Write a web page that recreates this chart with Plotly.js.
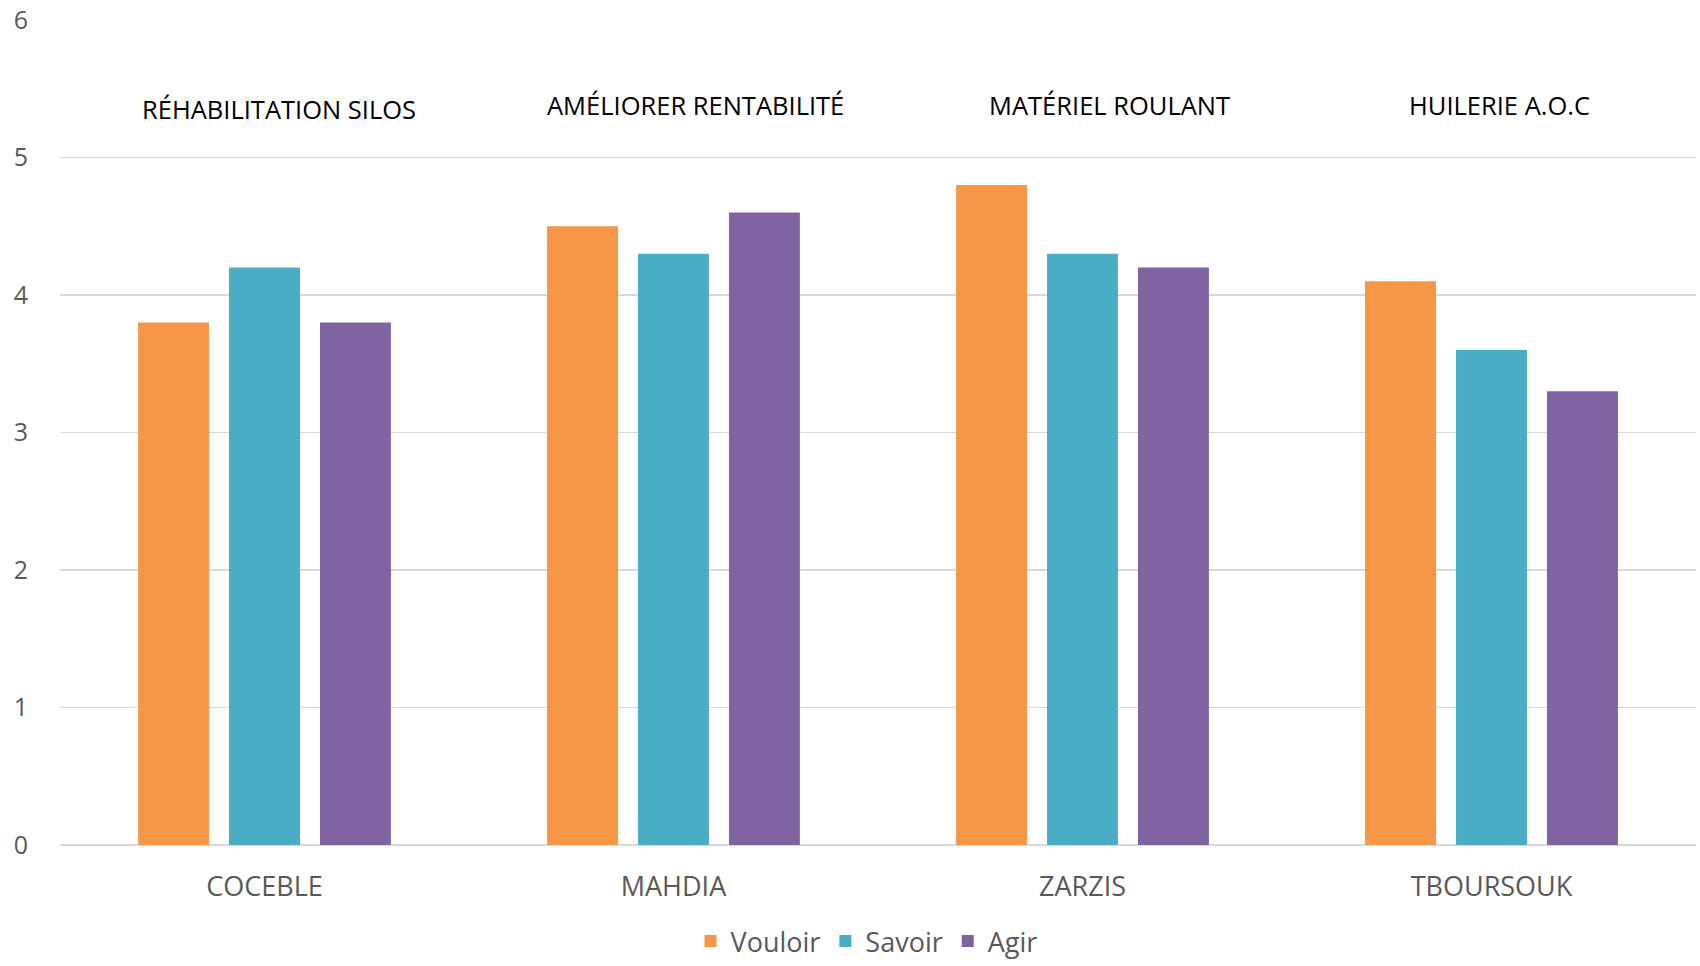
<!DOCTYPE html>
<html>
<head>
<meta charset="utf-8">
<script src="https://cdn.plot.ly/plotly-3.0.1.min.js"></script>
<style>html,body{margin:0;padding:0;background:#fff;}#chart{width:1700px;height:966px;}</style>
</head>
<body>
<div id="chart"></div>
<script>
const categories = ["COCEBLE", "MAHDIA", "ZARZIS", "TBOURSOUK"];
const projects = ["RÉHABILITATION SILOS", "AMÉLIORER RENTABILITÉ", "MATÉRIEL ROULANT", "HUILERIE A.O.C"];
const projectX = [0.035, 1.055, 2.065, 3.02];
const projectY = [5.35, 5.38, 5.38, 5.38];
const vouloir = [3.8, 4.5, 4.8, 4.1];
const savoir = [4.2, 4.3, 4.3, 3.6];
const agir = [3.8, 4.6, 4.2, 3.3];
const yTicks = [0, 1, 2, 3, 4, 5, 6];

const font = "'Open Sans', 'DejaVu Sans', sans-serif";
const traces = [
  {type: 'bar', name: 'Vouloir', x: categories, y: vouloir, marker: {color: '#F79646'}},
  {type: 'bar', name: 'Savoir', x: categories, y: savoir, marker: {color: '#4BACC6'}},
  {type: 'bar', name: 'Agir', x: categories, y: agir, marker: {color: '#8064A2'}}
];

const annotations = projects.map((t, i) => ({
  text: t, x: projectX[i], y: projectY[i], xref: 'x', yref: 'y',
  showarrow: false, font: {family: font, size: 25.5, color: '#000000'}
}));

const layout = {
  width: 1700, height: 966,
  margin: {l: 60, r: 4, t: 20, b: 121},
  paper_bgcolor: '#ffffff', plot_bgcolor: '#ffffff',
  barmode: 'group', bargap: 0.333, bargroupgap: 0.22,
  showlegend: true,
  legend: {orientation: 'h', xref: 'paper', x: 0.493, xanchor: 'center',
           yref: 'container', y: 0, yanchor: 'bottom',
           font: {family: font, size: 27, color: '#595959'}, traceorder: 'normal'},
  xaxis: {type: 'category', showgrid: false, showline: false, zeroline: false,
          ticks: 'outside', ticklen: 18, tickcolor: 'rgba(0,0,0,0)',
          tickfont: {family: font, size: 27, color: '#595959'}},
  yaxis: {range: [0, 6], tickvals: yTicks, ticktext: yTicks.map(String),
          showgrid: true, gridcolor: '#D9D9D9', gridwidth: 1.5,
          zeroline: true, zerolinecolor: '#D9D9D9', zerolinewidth: 1.5,
          showline: false, ticks: 'outside', ticklen: 26, tickcolor: 'rgba(0,0,0,0)',
          tickfont: {family: font, size: 25, color: '#595959'}},
  annotations: annotations
};

Plotly.newPlot('chart', traces, layout, {displayModeBar: false, staticPlot: true});
</script>
</body>
</html>
